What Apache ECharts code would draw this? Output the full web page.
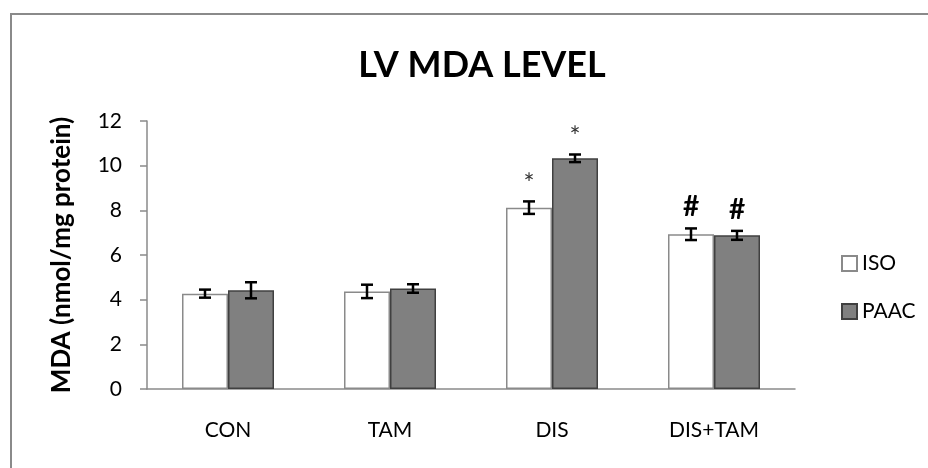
<!DOCTYPE html>
<html>
<head>
<meta charset="utf-8">
<script src="https://cdn.jsdelivr.net/npm/echarts@6/dist/echarts.min.js"></script>
<style>
  html, body { margin: 0; padding: 0; background: #fff; }
  #frame { position: absolute; left: 10px; top: 13px; width: 928px; height: 468px; border-left: 2px solid #8a8a8a; border-top: 2px solid #8a8a8a; }
  #main { position: absolute; left: 0; top: 0; width: 928px; height: 468px; }
</style>
</head>
<body>
<div id="frame"></div>
<div id="main"></div>
<script>
// 数据
var categories = ['CON', 'TAM', 'DIS', 'DIS+TAM'];
var isoValues = [4.27, 4.37, 8.12, 6.93];
var isoErrors = [0.18, 0.3, 0.28, 0.26];
var isoMarks = ['', '', '*', '#'];
var paacValues = [4.42, 4.5, 10.33, 6.88];
var paacErrors = [0.36, 0.19, 0.17, 0.2];
var paacMarks = ['', '', '*', '#'];
var yTicks = [0, 2, 4, 6, 8, 10, 12];

(function () {
  var myChart = echarts.init(document.getElementById('main'));

  // 误差线 + 显著性标记
  function errorSeries(values, errors, marks, offset) {
    return {
      type: 'custom',
      z: 10,
      silent: true,
      data: values.map(function (v, i) { return [i, v, errors[i]]; }),
      renderItem: function (params, api) {
        var i = api.value(0);
        var v = api.value(1);
        var e = api.value(2);
        var hi = api.coord([i, v + e]);
        var lo = api.coord([i, v - e]);
        var x = hi[0] + offset;
        var cap = 6;
        var style = { stroke: '#000', lineWidth: 2.5 };
        var children = [
          { type: 'line', shape: { x1: x, y1: hi[1], x2: x, y2: lo[1] }, style: style },
          { type: 'line', shape: { x1: x - cap, y1: hi[1], x2: x + cap, y2: hi[1] }, style: style },
          { type: 'line', shape: { x1: x - cap, y1: lo[1], x2: x + cap, y2: lo[1] }, style: style }
        ];
        var mark = marks[params.dataIndex];
        if (mark) {
          var isHash = mark === '#';
          children.push({
            type: 'text',
            style: {
              text: mark,
              x: x,
              y: hi[1] - (isHash ? 21 : 17),
              align: 'center',
              verticalAlign: 'middle',
              fill: isHash ? '#000' : '#333',
              fontSize: isHash ? 28 : 26,
              fontWeight: isHash ? 'bold' : 'normal',
              fontFamily: 'Lato'
            }
          });
        }
        return { type: 'group', children: children };
      }
    };
  }

  var option = {
    animation: false,
    title: {
      text: 'LV MDA LEVEL',
      left: 477,
      top: 42,
      textAlign: 'center',
      textStyle: {
        fontFamily: 'Lato',
        fontWeight: 'bold',
        fontSize: 36,
        color: '#000'
      }
    },
    legend: {
      orient: 'vertical',
      left: 836,
      top: 248,
      itemGap: 27,
      itemWidth: 15,
      itemHeight: 15,
      icon: 'rect',
      textStyle: {
        fontFamily: 'Lato',
        fontSize: 21,
        color: '#000'
      },
      data: ['ISO', 'PAAC']
    },
    grid: {
      left: 147,
      right: 133,
      top: 121,
      bottom: 79
    },
    xAxis: {
      type: 'category',
      data: categories,
      axisLine: {
        lineStyle: { color: '#8a8a8a', width: 1.5 }
      },
      axisTick: {
        length: 7,
        lineStyle: { color: '#8a8a8a', width: 1.5 }
      },
      axisLabel: {
        margin: 31,
        fontFamily: 'Lato',
        fontSize: 21,
        color: '#000'
      }
    },
    yAxis: {
      type: 'value',
      min: 0,
      max: 12,
      interval: 2,
      name: 'MDA (nmol/mg protein)',
      nameLocation: 'middle',
      nameRotate: 90,
      nameGap: 72,
      nameTextStyle: {
        fontFamily: 'Lato',
        fontWeight: 'bold',
        fontSize: 26,
        color: '#000'
      },
      axisLine: {
        show: true,
        lineStyle: { color: '#8a8a8a', width: 1.5 }
      },
      axisTick: {
        show: true,
        length: 7,
        lineStyle: { color: '#8a8a8a', width: 1.5 }
      },
      axisLabel: {
        margin: 25,
        fontFamily: 'Lato',
        fontSize: 21,
        color: '#000',
        formatter: function (v) { return yTicks.indexOf(v) >= 0 ? String(v) : ''; }
      },
      splitLine: { show: false }
    },
    series: [
      {
        name: 'ISO',
        type: 'bar',
        barWidth: 46,
        barGap: '0%',
        data: isoValues,
        itemStyle: {
          color: '#ffffff',
          borderColor: '#8a8a8a',
          borderWidth: 1.5
        }
      },
      {
        name: 'PAAC',
        type: 'bar',
        barWidth: 46,
        barGap: '0%',
        data: paacValues,
        itemStyle: {
          color: '#808080',
          borderColor: '#404040',
          borderWidth: 1.5
        }
      },
      errorSeries(isoValues, isoErrors, isoMarks, -23),
      errorSeries(paacValues, paacErrors, paacMarks, 23)
    ]
  };

  myChart.setOption(option);
  window.addEventListener('resize', function () {
    myChart.resize();
  });
})();
</script>
</body>
</html>
